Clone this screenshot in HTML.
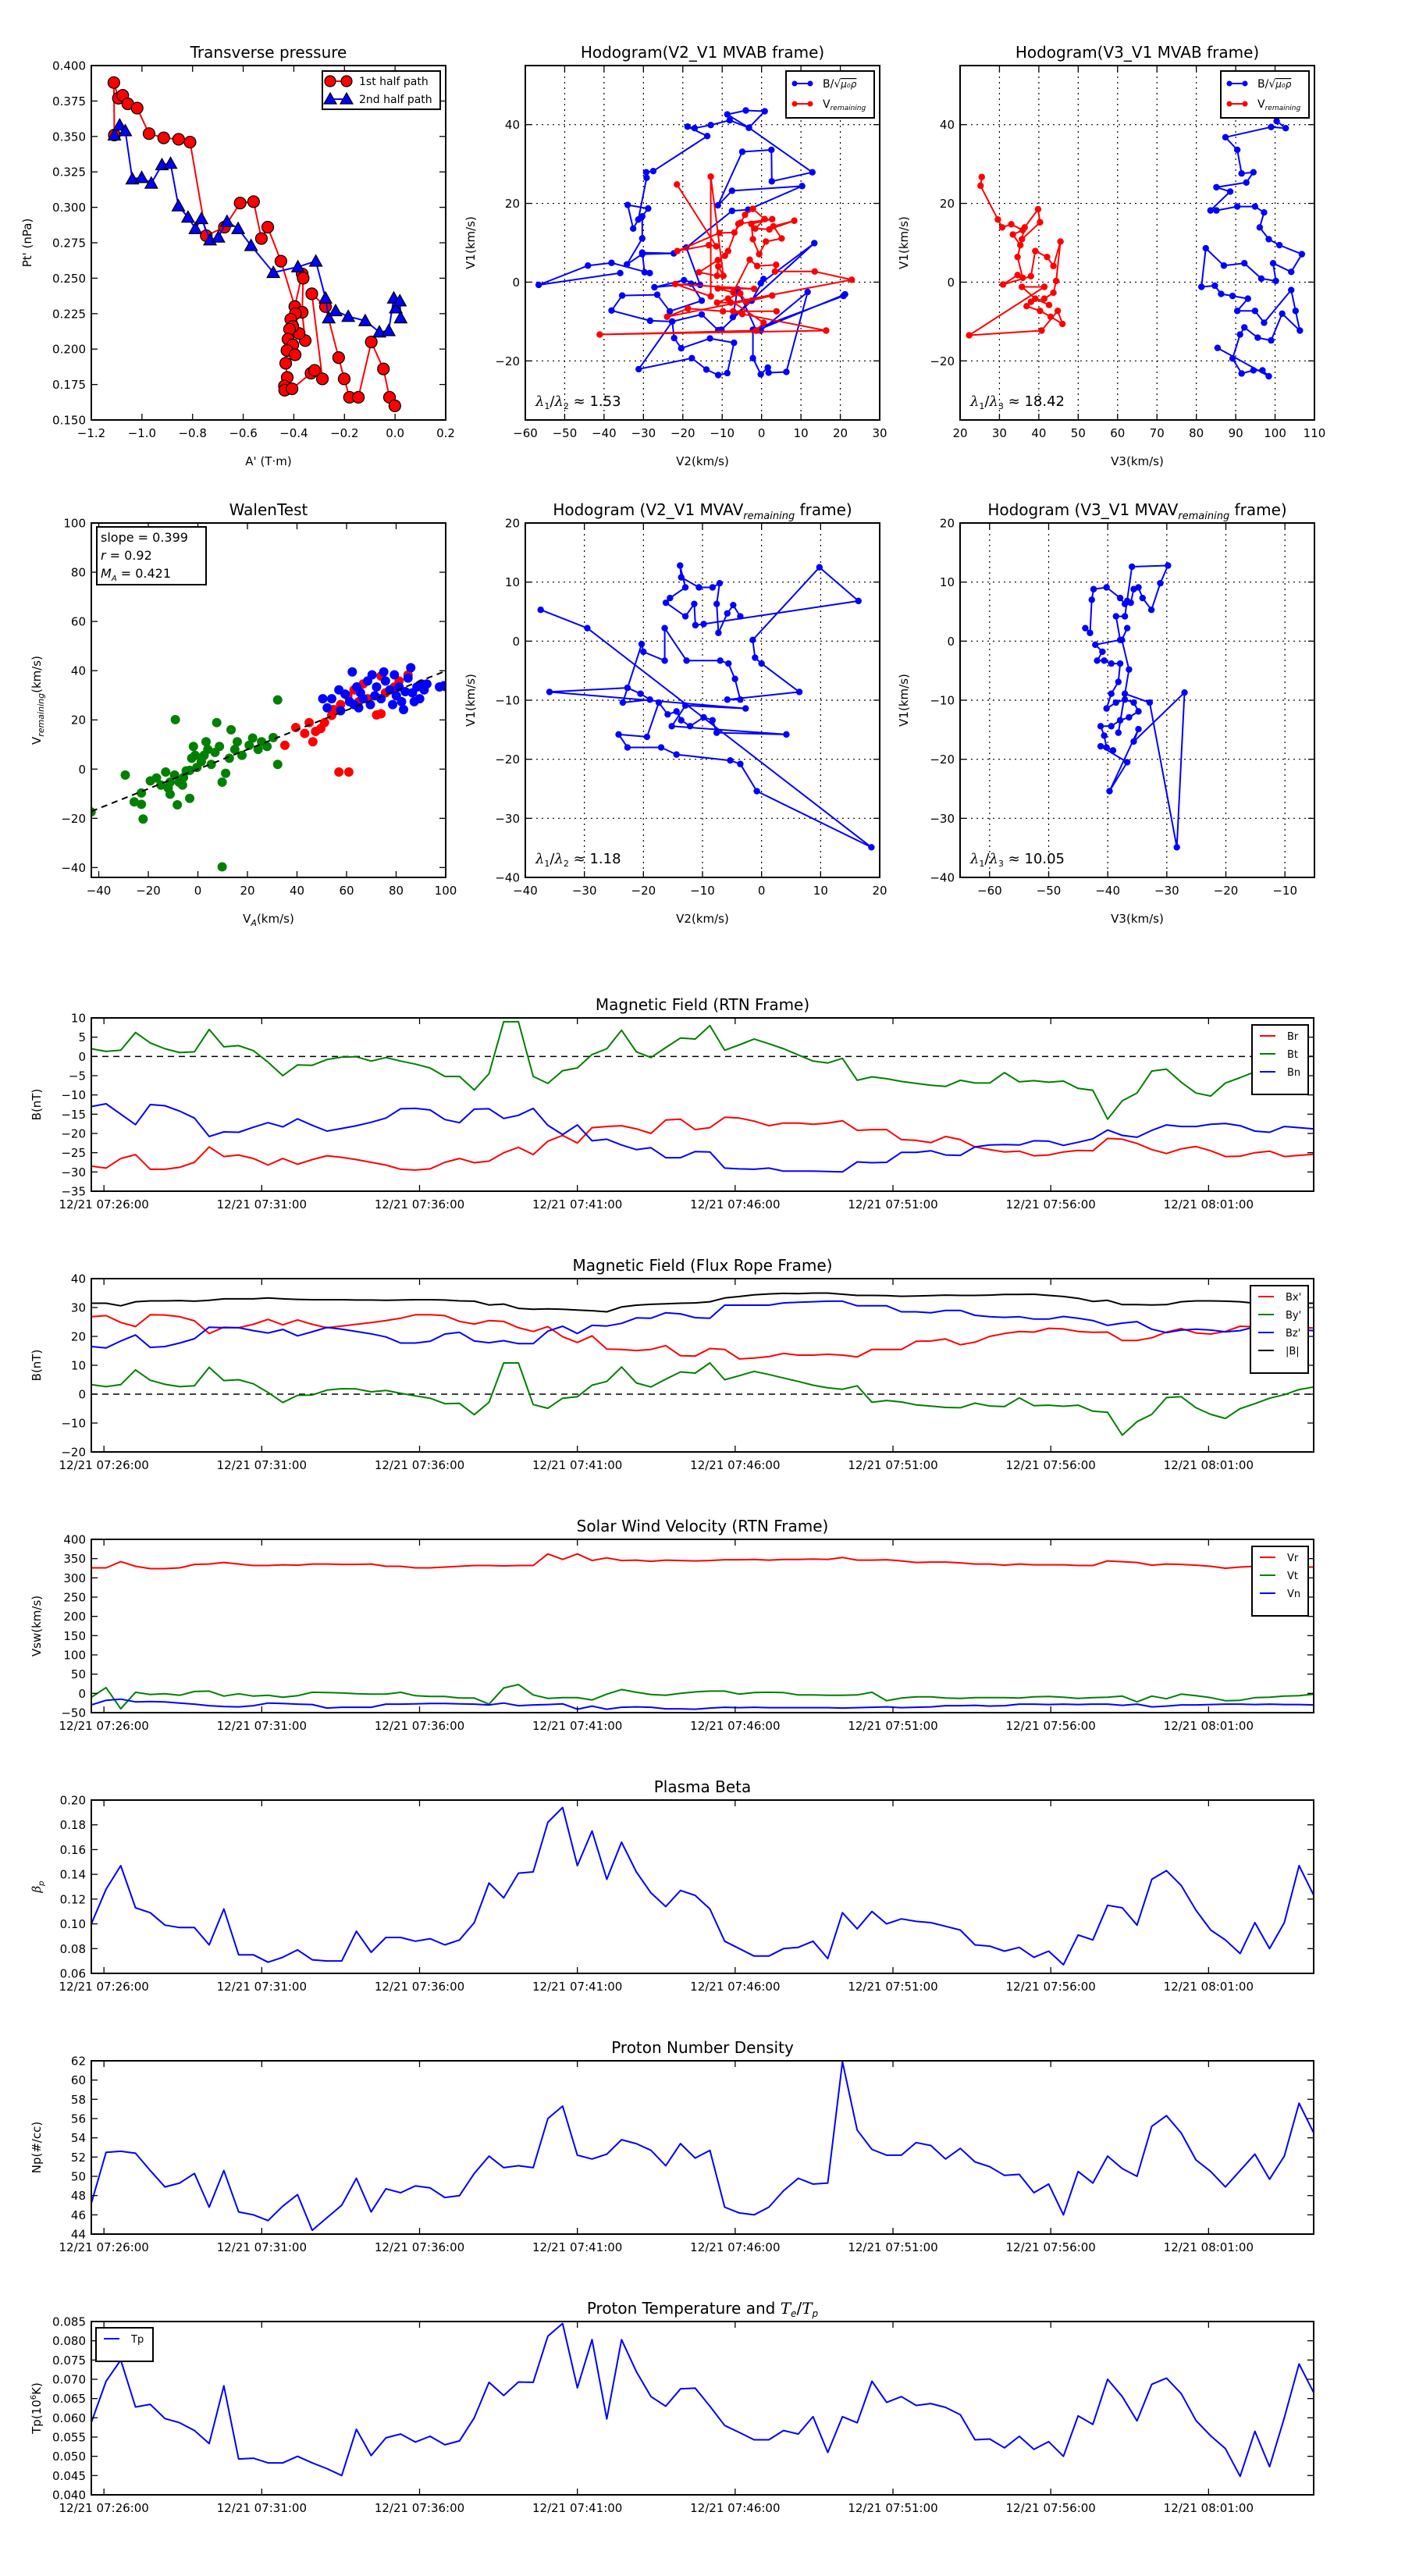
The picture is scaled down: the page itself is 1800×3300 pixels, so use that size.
<!DOCTYPE html>
<html><head><meta charset="utf-8"><title>Flux rope analysis</title>
<style>
html,body{margin:0;padding:0;background:#fff;}
svg{display:block;font-family:"DejaVu Sans","Liberation Sans",sans-serif;}
</style></head>
<body>
<svg id="fig" xmlns="http://www.w3.org/2000/svg" width="1800" height="3300" viewBox="0 0 1800 3300">
<rect x="0" y="0" width="1800" height="3300" fill="#fff"/>
</svg>
<script>
// ---------- Time series data (28 s cadence, minutes relative to 07:26:00) ----------
const timeStartMin = -0.40;
const cadenceMin = 28/60;
const timeTickLabels = ["12/21 07:26:00","12/21 07:31:00","12/21 07:36:00","12/21 07:41:00","12/21 07:46:00","12/21 07:51:00","12/21 07:56:00","12/21 08:01:00"];
const timeTickMin = [0,5,10,15,20,25,30,35];

const Br = [-28.5,-29,-26.5,-25.5,-29.3,-29.3,-28.8,-27.5,-23.5,-26,-25.6,-26.5,-28.2,-26.5,-28,-26.8,-25.8,-26.2,-26.8,-27.5,-28.2,-29.3,-29.5,-29.2,-27.5,-26.5,-27.6,-27.2,-25,-23.6,-25.5,-22,-20.5,-22.5,-18.5,-18.2,-18,-18.8,-20,-16.5,-16.3,-19,-18.5,-15.8,-16,-16.8,-18,-17.3,-17.3,-17.6,-17.3,-16.7,-19.2,-19,-19,-21.6,-21.8,-22.4,-20.8,-21.6,-23.5,-24.2,-24.8,-24.6,-25.8,-25.6,-24.8,-24.4,-24.5,-21.3,-21.5,-22.6,-24.2,-25.2,-24,-23.4,-24.5,-26,-25.9,-25,-24.6,-26,-25.7,-25.4];
const Bt = [2,1.3,1.6,6.2,3.5,2,1,1.2,7,2.5,2.8,1.5,-1.5,-5,-2.2,-2.3,-0.8,-0.2,-0.1,-1.2,-0.3,-1.2,-2,-3,-5.2,-5.2,-8.7,-4.5,9,9,-5.2,-7,-3.7,-3,0.5,2,6.8,1.2,-0.3,2.3,4.8,4.5,8,1.6,3,4.5,3.3,2,0.4,-1.2,-1.7,-0.5,-6.2,-5.3,-5.8,-6.5,-7,-7.5,-7.8,-6.2,-6.9,-6.9,-4.2,-6.6,-6.3,-6.7,-6.4,-8.3,-8.8,-16.3,-11.5,-9.5,-3.8,-3.3,-6.7,-9.5,-10.3,-6.9,-5.5,-4,-2,-1,0,0];
const Bn = [-13,-12.3,-15,-17.7,-12.5,-12.8,-14.2,-16,-20.8,-19.6,-19.7,-18.4,-17.2,-18.3,-16.2,-17.9,-19.4,-18.7,-18,-17.1,-16,-13.6,-13.5,-13.9,-16.4,-17.2,-13.7,-13.6,-16.1,-15.3,-13.5,-17.9,-20.3,-17.8,-21.9,-21.5,-23,-24.2,-23.7,-26.3,-26.3,-24.7,-24.8,-29,-29.2,-29.3,-29,-29.8,-29.8,-29.8,-29.9,-30,-27.4,-27.6,-27.5,-24.9,-24.9,-24.5,-25.6,-25.7,-23.5,-23,-22.9,-23,-21.9,-22,-23.1,-22.3,-21.4,-19.1,-20.5,-21,-19.2,-17.8,-18.2,-18.2,-17.6,-17.4,-18,-19.4,-19.7,-18.2,-18.5,-18.8];

const BxP = [26.8,27.2,24.8,23.4,27.5,27.4,26.8,25.4,21,23.2,23,24.2,25.9,24,25.7,24.2,23,23.6,24.2,24.8,25.5,26.3,27.5,27.5,27.2,25.2,24.3,25.5,25.2,23,21.7,23.4,19.9,17.9,20.2,15.6,15.5,15.1,15.5,16.8,13.3,13.2,15.8,15.5,12.2,12.5,13,14.1,13.5,13.5,13.8,13.5,12.9,15.5,15.5,15.5,18.3,18.4,19.1,17.1,18,20,21,21.7,21.5,22.8,22.6,21.7,21.4,21.5,18.6,18.6,19.5,21.5,22.7,21.2,20.8,21.7,23.5,23.3,22.4,22.6,23.1,22.9];
const ByP = [3.3,2.6,3.3,8.4,4.8,3.4,2.6,2.9,9.3,4.7,5,3.6,0.6,-2.9,-0.4,-0.3,1.4,1.9,1.8,0.8,1.3,0.3,-0.6,-1.4,-3.3,-3.2,-7.1,-2.8,10.8,10.8,-3.6,-4.9,-1.4,-0.9,3.1,4.4,9.4,3.9,2.5,5.2,7.7,7.3,10.8,5,6.4,7.9,6.8,5.6,4.4,3.1,2.2,1.7,2.9,-2.8,-2.2,-2.7,-3.7,-4.1,-4.6,-4.7,-3.1,-4.1,-4.3,-1.3,-4,-3.8,-4.2,-3.8,-5.9,-6.3,-14.2,-9.5,-7,-1.2,-0.9,-4.7,-7,-8.4,-5,-3.3,-1.4,-0.2,1.6,2.5];
const BzP = [16.5,16,18.4,20.5,16.2,16.5,17.7,19.2,23.2,23,23,22,21.2,22.4,20.2,21.6,23.1,22.5,21.7,20.9,19.8,17.7,17.7,18.3,20.8,21.4,18.4,17.8,18.5,17.5,17.5,21.8,23.5,21,23.8,23.6,24.5,26.4,26.3,28.2,27.8,26.5,26.3,30.8,30.8,30.8,30.8,31.6,31.8,32,32.2,32.2,30.6,30.6,30.6,28.5,28.5,28.2,29,29,27.3,26.8,26.6,26.8,26,26,26.9,26.3,25.5,23.8,24.6,25.1,22.5,21.3,22.2,22.5,22.2,21.6,22,23.3,22.5,22.8,22.3,22];
const Bmag = [31.5,31.5,30.6,32,32.3,32.3,32.4,32.2,32.5,33,33,33,33.3,33,32.8,32.7,32.7,32.7,32.6,32.6,32.5,32.6,32.7,32.7,32.6,32.3,32.2,30.9,31.2,29.7,29.4,29.5,29.4,29.1,28.9,28.5,30.2,30.8,31.1,31.3,31.5,31.6,32,33.3,33.8,34.4,34.7,34.9,34.8,35,35,34.6,34.2,34.2,34.1,33.9,34,34.1,34.3,34.2,34.2,34.3,34.5,34.5,34.6,34.2,33.8,33.2,32.1,32.5,31,31,30.9,31,32,32.3,32.3,32.2,32,31.5,31.3,31.5,31.5,31.5];

const Vr = [326,326,342,330,324,324,326,335,336,340,336,332,332,334,333,336,336,335,335,336,330,330,326,326,328,330,332,332,331,332,332,362,348,362,345,352,345,346,343,346,345,344,345,347,347,348,346,348,348,349,348,353,346,346,347,344,340,341,341,339,336,336,333,336,334,334,334,332,332,344,342,340,333,336,335,333,330,325,328,330,331,330,328,328];
const Vt = [-10,15,-40,3,-3,-1,-5,5,6,-7,-1,-7,-5,-10,-6,3,2,1,-1,-2,-2,3,-6,-8,-8,-12,-12,-28,14,23,-4,-13,-11,-11,-17,-2,10,3,-3,-5,0,4,6,6,-2,2,3,2,-4,-4,-5,-5,-4,3,-19,-12,-9,-9,-12,-13,-11,-11,-11,-12,-9,-8,-10,-13,-11,-10,-7,-22,-7,-14,-2,-6,-11,-19,-18,-11,-10,-7,-6,-2];
const Vn = [-30,-18,-15,-22,-21,-22,-25,-28,-32,-34,-35,-32,-25,-26,-28,-29,-38,-36,-36,-36,-28,-28,-27,-26,-26,-27,-28,-30,-25,-32,-30,-29,-27,-41,-33,-41,-36,-35,-36,-40,-40,-41,-38,-36,-37,-36,-37,-37,-37,-37,-37,-38,-37,-36,-35,-37,-36,-35,-32,-32,-31,-33,-32,-28,-28,-29,-28,-29,-28,-28,-31,-28,-35,-33,-30,-30,-29,-28,-28,-29,-28,-29,-29,-30];

const betaP = [0.100,0.128,0.147,0.113,0.109,0.099,0.097,0.097,0.083,0.112,0.075,0.075,0.069,0.073,0.079,0.071,0.070,0.070,0.094,0.077,0.089,0.089,0.086,0.088,0.083,0.087,0.101,0.133,0.121,0.141,0.142,0.182,0.194,0.147,0.175,0.136,0.166,0.142,0.125,0.114,0.127,0.123,0.112,0.086,0.080,0.074,0.074,0.080,0.081,0.086,0.072,0.109,0.096,0.110,0.100,0.104,0.102,0.101,0.098,0.095,0.083,0.082,0.078,0.081,0.073,0.078,0.067,0.091,0.087,0.115,0.113,0.099,0.136,0.143,0.131,0.111,0.095,0.087,0.076,0.101,0.080,0.101,0.147,0.123];
const Np = [47.2,52.5,52.6,52.4,50.6,48.9,49.3,50.3,46.8,50.6,46.3,46,45.4,46.9,48.1,44.4,45.7,47,49.8,46.3,48.7,48.3,49,48.8,47.8,48,50.3,52.1,50.9,51.1,50.9,56,57.3,52.2,51.8,52.3,53.8,53.4,52.7,51.1,53.4,51.9,52.7,46.8,46.2,46,46.8,48.5,49.8,49.2,49.3,61.9,54.8,52.8,52.2,52.2,53.5,53.2,51.8,52.9,51.5,51,50.1,50.2,48.3,49.2,46,50.5,49.3,52.1,50.8,50,55.2,56.3,54.5,51.7,50.5,48.9,50.6,52.3,49.7,52.1,57.6,54.5];
const Tp = [0.0588,0.0695,0.0750,0.0628,0.0635,0.0598,0.0587,0.0567,0.0533,0.0683,0.0493,0.0495,0.0483,0.0483,0.0500,0.0483,0.0468,0.0450,0.0570,0.0502,0.0548,0.0558,0.0537,0.0552,0.0530,0.0540,0.0600,0.0692,0.0658,0.0693,0.0692,0.0812,0.0845,0.0678,0.0803,0.0597,0.0803,0.0720,0.0655,0.0630,0.0675,0.0677,0.0630,0.0580,0.0562,0.0543,0.0543,0.0567,0.0558,0.0603,0.0510,0.0603,0.0587,0.0695,0.0640,0.0655,0.0632,0.0637,0.0627,0.0608,0.0543,0.0545,0.0522,0.0552,0.0518,0.0538,0.0500,0.0605,0.0583,0.0700,0.0655,0.0592,0.0687,0.0703,0.0663,0.0593,0.0553,0.0520,0.0448,0.0565,0.0473,0.0600,0.0740,0.0665];

// ---------- Transverse pressure ----------
const pt1A = [-1.109,-1.111,-1.093,-1.076,-1.056,-1.019,-0.972,-0.914,-0.855,-0.810,-0.746,-0.674,-0.612,-0.559,-0.528,-0.503,-0.451,-0.396,-0.367,-0.363,-0.367,-0.355,-0.379,-0.394,-0.412,-0.404,-0.417,-0.423,-0.404,-0.427,-0.395,-0.432,-0.426,-0.437,-0.436,-0.407,-0.332,-0.318,-0.287,-0.329,-0.275,-0.223,-0.201,-0.180,-0.145,-0.094,-0.046,-0.022,-0.001];
const pt1P = [.351,.388,.377,.379,.373,.370,.352,.349,.348,.346,.280,.286,.303,.304,.278,.286,.262,.230,.253,.250,.226,.206,.211,.225,.221,.216,.214,.207,.203,.199,.196,.190,.180,.174,.171,.172,.183,.185,.179,.239,.230,.194,.179,.166,.166,.205,.186,.166,.160];
const pt2A = [-1.109,-1.088,-1.066,-1.038,-1.001,-0.963,-0.921,-0.887,-0.856,-0.818,-0.789,-0.765,-0.731,-0.698,-0.664,-0.620,-0.569,-0.481,-0.384,-0.313,-0.275,-0.262,-0.235,-0.185,-0.118,-0.062,-0.025,-0.005,0.003,0.019,0.022];
const pt2P = [.351,.358,.354,.320,.321,.317,.330,.331,.301,.293,.285,.292,.277,.279,.290,.285,.273,.254,.258,.262,.236,.222,.227,.223,.220,.212,.213,.236,.229,.234,.222];

// ---------- Hodogram V2-V1 MVAB ----------
const hB2 = [-35.9,-56.6,-44.1,-38.1,-28.4,-29.7,-30.3,-22.3,-30.3,-34.2,-30.3,-30.3,-28.8,-34.0,-32.6,-31.3,-29.2,-29.3,-27.5,-13.8,-18.8,-17.0,-12.9,-8.1,-3.2,-8.7,-4.0,0.8,-3.2,12.9,2.6,2.5,-4.9,-11.1,-7.5,10.3,-3.4,-7.5,-19.1,-15.6,-19.7,-27.2,-17.9,-15.2,-23.3,-26.5,-35.4,-38.1,-28.3,-22.7,-22.2,-20.4,-13.1,-7.0,-8.7,-11.0,-14.0,-17.7,-31.2,-22.7,-15.2,-11.0,-10.2,-2.5,0.5,-0.2,13.4,-7.3,-6.1,-1.3,21.2,20.8,-2.2,-2.2,-0.2,1.6,1.8,6.3,11.7,-0.2];
const hB1 = [2.3,-0.7,4.2,4.9,2.3,2.5,7.5,7.3,7.1,4.5,11.1,16.7,18.7,19.6,13.6,15.9,26.5,27.9,28.2,37.1,39.5,39.1,39.9,41.1,39.2,42.6,43.6,43.4,39.2,27.9,25.6,33.6,33.1,19.5,23.2,24.4,18.4,18.1,8.8,-0.7,0.5,-1.3,-0.4,-4.7,-7.4,-3.2,-3.4,-7.2,-9.8,-10.0,-14.2,-16.8,-14.3,-15.4,-23.1,-23.6,-22.2,-19.3,-22.1,-10.0,-8.2,-12.2,-12.1,-4.7,0.8,-0.3,9.9,-8.9,-1.8,-12.3,-3.1,-3.5,-12.1,-19.3,-23.4,-21.7,-23.0,-22.8,-2.5,-12.3];
const hV2 = [-21.5,-11.5,-13.4,-21.4,-10.7,-6.9,-5.3,-4.2,-2.2,0.8,-1.6,2.0,8.3,3.0,5.1,1.1,-0.6,-2.2,-2.6,2.7,-5.9,-8.5,-9.3,-11.1,-15.9,-11.3,-11.0,-9.7,-12.9,-12.9,-21.9,-1.9,-11.1,-7.2,-3.0,-1.1,3.7,3.4,13.5,22.9,-7.8,-11.3,-5.4,-3.9,2.7,-24.0,-18.7,-9.8,3.8,-7.2,-4.9,16.4,-41.1,-1.4,0.5,-8.5];
const hV1 = [24.8,9.1,9.4,7.9,12.5,12.6,15.1,17.1,18.6,16.0,13.6,13.4,15.6,14.2,11.1,10.3,7.1,10.9,14.8,16.0,14.8,7.9,6.7,5.6,2.5,1.6,4.0,1.6,26.8,-3.6,-0.5,-1.7,-1.6,-2.6,5.7,4.1,4.4,2.7,2.7,0.6,-5.2,-5.2,-2.9,-5.0,-3.4,-8.8,-6.7,-7.4,-7.4,-7.4,-8.1,-12.3,-13.3,-12.3,-10.3,-4.2];

// ---------- Hodogram V3-V1 MVAB ----------
const hB3 = [100.4,102.7,99.0,87.4,90.4,91.5,94.5,92.7,85.1,88.6,83.6,85.1,90.4,94.9,97.2,96.1,98.4,101.1,106.8,104.1,99.5,100.2,96.5,92.2,87.0,82.4,81.3,84.7,86.3,89.2,93.1,90.4,94.9,97.2,104.1,105.2,106.3,101.8,99.0,95.6,92.2,91.1,89.2,91.5,94.5,96.8,98.4,85.4];
const hB1b = [40.9,39.1,39.4,36.8,33.6,27.6,27.9,25.3,24.1,23.0,18.2,18.2,19.2,19.2,17.7,13.9,10.9,9.4,7.1,2.6,4.8,0.3,0.9,4.8,4.2,8.6,-1.2,-0.9,-3.0,-3.5,-4.2,-7.3,-7.3,-10.3,-2.0,-7.3,-12.3,-8.0,-14.8,-14.1,-11.5,-13.3,-19.4,-23.2,-22.4,-22.4,-23.9,-16.7];
const hV3 = [25.5,25.2,29.6,30.7,33.0,35.9,33.4,35.3,36.4,39.8,40.3,35.7,34.6,35.9,34.6,30.9,38.0,39.1,42.1,43.7,45.5,44.4,43.7,41.4,38.0,36.9,40.3,43.0,46.0,44.8,40.7,22.3,41.4,35.7,39.1,42.6];
const hV1b = [26.7,24.5,15.9,13.9,14.7,13.2,12.1,9.4,13.9,18.5,15.2,10.9,6.4,1.1,1.8,-0.6,1.5,7.9,6.4,4.1,10.3,0.3,-2.7,-4.2,-5.0,-6.1,-7.3,-8.8,-10.6,-7.3,-12.3,-13.5,-1.2,-1.2,-4.2,-5.8];

// ---------- Walen test ----------
const walenSlope = 0.399;
const walenGreenX = [-43.1,-29.3,-25.7,-22.8,-22.1,-22.8,-19.2,-16.7,-14.9,-13.0,-12.0,-11.2,-9.4,-8.3,-7.6,-5.8,-4.7,-3.3,-2.5,-1.8,-0.4,1.4,2.5,4.0,5.4,6.9,7.6,8.7,9.8,11.2,12.7,13.4,14.9,15.9,17.8,20.7,22.1,24.3,25.7,27.9,30.4,32.2,32.2,-9.1,9.8,-1.1,3.3,-6.2,-11.2,-3.3];
const walenGreenY = [-17.4,-2.4,-13.3,-14.3,-20.3,-9.7,-4.8,-3.6,-6.5,-1.2,-7.7,-5.3,-2.4,-14.5,-5.3,-3.4,-0.7,-11.9,4.4,9.2,0.7,3.1,5.6,8.0,1.9,6.8,18.9,9.2,-5.3,-1.7,4.4,16.0,8.0,11.1,5.6,9.7,12.6,8.0,11.1,9.2,12.8,1.9,28.1,20.1,-39.7,5.6,11.1,-6.5,-10.2,-0.5];
const walenRedX = [35.1,39.5,43.1,44.9,46.4,49.6,51.1,54.0,56.9,60.9,57.6,63.0,64.9,68.5,72.1,73.9,75.7,79.3,81.2,84.8,73.9,66.7,60.5,54.7,47.5];
const walenRedY = [9.7,16.9,14.5,18.9,11.1,16.5,18.9,21.8,-1.2,-1.2,26.2,32.2,27.4,28.6,22.0,37.8,31.0,33.4,35.8,38.3,22.5,34.6,29.8,24.2,15.3];
const walenBlueX = [50.4,52.2,54.0,56.9,59.4,61.2,62.3,64.1,65.6,66.7,68.5,69.6,71.4,72.1,73.9,75.7,77.5,78.6,80.1,81.2,82.2,83.0,84.8,85.9,86.6,87.3,88.4,90.2,91.3,92.4,97.5,99.3,64.9,70.3,75.0,57.6,63.0,79.3,83.7,89.5,100];
const walenBlueY = [28.6,24.9,28.6,32.2,30.5,27.4,39.5,33.4,31.0,28.6,35.8,26.2,29.8,33.4,28.6,35.8,32.2,26.2,29.8,33.4,27.4,24.2,37.0,41.2,31.0,27.4,33.4,34.6,32.2,34.6,33.4,33.9,24.9,38.3,39.5,23.7,26.2,38.3,31.5,28.6,33.5];

// ---------- Hodogram V2-V1 MVAV ----------
const hM2 = [-37.4,-29.5,18.6,-0.8,-3.6,-5.3,-14.4,-17.0,-22.7,-24.2,-19.4,-17.4,-15.9,-14.4,-13.6,-12.1,-9.8,-8.3,-7.6,4.2,-15.2,-12.9,-2.7,-35.9,-22.7,-20.5,-18.9,-23.5,-20.3,-20.0,-16.4,-16.4,-12.7,-7.0,-5.6,-4.5,-3.6,-5.8,6.4,0,-1.1,-1.5,9.8,16.4,-9.8,-11.2,-11.4,-12.9,-16.2,-15.5,-12.9,-13.8,-13.6,-10.6,-8.3,-7.1,-7.6,-7.3,-5.8,-4.8,-3.6];
const hM1 = [5.3,2.2,-34.9,-25.4,-20.8,-20.2,-19.2,-18.0,-18.0,-15.8,-16.2,-10.4,-12.4,-11.9,-13.4,-14.4,-12.9,-13.4,-15.5,-15.8,-14.4,-10.9,-11.4,-8.6,-7.9,-8.9,-9.9,-10.4,-0.5,-1.8,-3.3,2.2,-3.3,-3.3,-3.8,-6.4,-9.9,-9.9,-8.6,-3.8,-2.8,0.2,12.5,6.8,2.9,2.7,6.3,4.2,6.5,7.3,9.1,12.8,10.8,9.1,9.1,9.8,6.3,1.4,4.7,6.1,4.2];

// ---------- Hodogram V3-V1 MVAV ----------
const hM3 = [-43.8,-43.0,-42.7,-42.4,-40.2,-37.9,-37.1,-36.7,-36.1,-35.6,-34.8,-34.1,-32.6,-31.1,-29.8,-35.9,-37.1,-38.6,-37.9,-42.1,-40.9,-41.8,-40.6,-39.4,-37.9,-38.2,-39.4,-40.2,-38.6,-37.1,-35.6,-34.8,-36.4,-37.9,-39.4,-41.2,-40.6,-40.2,-39.1,-41.2,-36.7,-39.7,-34.8,-35.6,-27.0,-28.3,-32.9,-37.1,-38.2,-36.4,-37.6,-36.7];
const hM1b = [2.2,1.4,7.0,8.8,9.1,7.3,6.3,6.8,6.5,8.8,9.1,7.3,5.3,9.8,12.8,12.6,4.2,4.2,0.2,-0.6,-1.8,-3.3,-3.3,-3.8,-3.8,-6.9,-8.9,-11.4,-10.4,-9.9,-10.4,-11.9,-12.9,-13.4,-14.4,-14.4,-16.0,-18.0,-18.5,-17.8,-20.5,-25.4,-14.9,-17.0,-8.7,-34.9,-10.4,-8.9,-15.5,-4.8,0.2,2.2];

// ======================= drawing =======================
const NS = 'http://www.w3.org/2000/svg';
const svg = document.getElementById('fig');
function mk(tag, attrs, parent){
  const e = document.createElementNS(NS, tag);
  for (const k in attrs) e.setAttribute(k, attrs[k]);
  (parent || svg).appendChild(e);
  return e;
}
function nm(e, n){
  
  
  return e;
}
let clipCount = 0;
function fmt(v){ return (v < 0 ? '\u2212' : '') + Math.abs(v); }

function axes(o){
  const g = mk('g', {});
  nm(g, o.name);
  const sx = v => o.x + (v - o.xmin) / (o.xmax - o.xmin) * o.w;
  const sy = v => o.y + o.h - (v - o.ymin) / (o.ymax - o.ymin) * o.h;
  const cid = 'clip' + (clipCount++);
  const cp = mk('clipPath', {id: cid}, g);
  mk('rect', {x: o.x, y: o.y, width: o.w, height: o.h}, cp);
  const plot = mk('g', {'clip-path': 'url(#' + cid + ')'}, g);
  nm(plot, o.name + '-plot-area');
  // grid
  if (o.grid){
    o.xticks.forEach(v => { const l = mk('line', {x1: sx(v), x2: sx(v), y1: o.y, y2: o.y + o.h, stroke: '#000', 'stroke-width': 1.2, 'stroke-dasharray': '2,5'}, plot); nm(l, 'x-gridline'); });
    o.yticks.forEach(v => { const l = mk('line', {y1: sy(v), y2: sy(v), x1: o.x, x2: o.x + o.w, stroke: '#000', 'stroke-width': 1.2, 'stroke-dasharray': '2,5'}, plot); nm(l, 'y-gridline'); });
  }
  // ticks
  o.xticks.forEach((v, i) => {
    const X = sx(v);
    const t1 = mk('line', {x1: X, x2: X, y1: o.y + o.h, y2: o.y + o.h - 8, stroke: '#000', 'stroke-width': 1.3}, g); nm(t1, 'x-tick');
    const t2 = mk('line', {x1: X, x2: X, y1: o.y, y2: o.y + 8, stroke: '#000', 'stroke-width': 1.3}, g); nm(t2, 'x-tick-top');
    const lab = mk('text', {x: X, y: o.y + o.h + 22, 'text-anchor': 'middle', 'font-size': 15, fill: '#000'}, g);
    lab.textContent = o.xlabels ? o.xlabels[i] : fmt(v);
    nm(lab, 'x-tick-label');
  });
  o.yticks.forEach((v, i) => {
    const Y = sy(v);
    const t1 = mk('line', {x1: o.x, x2: o.x + 8, y1: Y, y2: Y, stroke: '#000', 'stroke-width': 1.3}, g); nm(t1, 'y-tick');
    const t2 = mk('line', {x1: o.x + o.w, x2: o.x + o.w - 8, y1: Y, y2: Y, stroke: '#000', 'stroke-width': 1.3}, g); nm(t2, 'y-tick-right');
    const lab = mk('text', {x: o.x - 7, y: Y + 5.5, 'text-anchor': 'end', 'font-size': 15, fill: '#000'}, g);
    lab.textContent = o.ylabels ? o.ylabels[i] : fmt(v);
    nm(lab, 'y-tick-label');
  });
  const fr = mk('rect', {x: o.x, y: o.y, width: o.w, height: o.h, fill: 'none', stroke: '#000', 'stroke-width': 2}, g);
  nm(fr, o.name + '-frame');
  const t = mk('text', {x: o.x + o.w / 2, y: o.y - 10, 'text-anchor': 'middle', 'font-size': 20, fill: '#000'}, g);
  t.innerHTML = o.title;
  nm(t, o.name + '-title');
  if (o.xtitle){
    const xt = mk('text', {x: o.x + o.w / 2, y: o.y + o.h + 58, 'text-anchor': 'middle', 'font-size': 15, fill: '#000'}, g);
    xt.innerHTML = o.xtitle;
    nm(xt, 'x-axis-title');
  }
  if (o.ytitle){
    const yx = o.ytx, yy = o.y + o.h / 2;
    const yt = mk('text', {x: yx, y: yy, 'text-anchor': 'middle', 'font-size': 15, fill: '#000', transform: 'rotate(-90 ' + yx + ' ' + yy + ')'}, g);
    yt.innerHTML = o.ytitle;
    nm(yt, 'y-axis-title');
  }
  return {g, plot, sx, sy};
}
function polyline(ax, xs, ys, color, width, name){
  const pts = xs.map((v, i) => ax.sx(v).toFixed(1) + ',' + ax.sy(ys[i]).toFixed(1)).join(' ');
  const p = mk('polyline', {points: pts, fill: 'none', stroke: color, 'stroke-width': width, 'stroke-linejoin': 'round'}, ax.plot);
  nm(p, name);
  return p;
}
function dots(ax, xs, ys, color, r, stroke, name){
  xs.forEach((v, i) => {
    const c = mk('circle', {cx: ax.sx(v), cy: ax.sy(ys[i]), r: r, fill: color, stroke: stroke, 'stroke-width': stroke === 'none' ? 0 : 1.2}, ax.plot);
    nm(c, name);
  });
}
function tris(ax, xs, ys, color, s, name){
  xs.forEach((v, i) => {
    const X = ax.sx(v), Y = ax.sy(ys[i]);
    const p = mk('polygon', {points: X + ',' + (Y - s) + ' ' + (X - s) + ',' + (Y + s * 0.8) + ' ' + (X + s) + ',' + (Y + s * 0.8), fill: color, stroke: '#000', 'stroke-width': 1.2}, ax.plot);
    nm(p, name);
  });
}
function hline(ax, v, xmin, xmax, name){
  const l = mk('line', {x1: ax.sx(xmin), x2: ax.sx(xmax), y1: ax.sy(v), y2: ax.sy(v), stroke: '#000', 'stroke-width': 1.5, 'stroke-dasharray': '8,6'}, ax.plot);
  nm(l, name);
}
function range(a, b, s){ const r = []; for (let v = a; v <= b + 1e-9; v += s) r.push(+v.toFixed(4)); return r; }

// ---------- Row 1 ----------
const R1 = 84, R2 = 670, SZ = 454;
const C1 = 117, C2 = 673, C3 = 1230;

const axP = axes({name: 'transverse-pressure-chart', x: C1, y: R1, w: SZ, h: SZ, xmin: -1.2, xmax: 0.2, ymin: 0.15, ymax: 0.40,
  xticks: range(-1.2, 0.2, 0.2), xlabels: ['\u22121.2','\u22121.0','\u22120.8','\u22120.6','\u22120.4','\u22120.2','0.0','0.2'],
  yticks: range(0.15, 0.40, 0.025), ylabels: ['0.150','0.175','0.200','0.225','0.250','0.275','0.300','0.325','0.350','0.375','0.400'],
  title: 'Transverse pressure', xtitle: "A' (T\u00b7m)", ytitle: "Pt' (nPa)", ytx: 40});
polyline(axP, pt1A, pt1P, '#f00', 2, 'first-half-path-line');
dots(axP, pt1A, pt1P, '#f00', 7.5, '#000', 'first-half-path-marker');
polyline(axP, pt2A, pt2P, '#00f', 2, 'second-half-path-line');
tris(axP, pt2A, pt2P, '#00f', 8, 'second-half-path-marker');

const axH1 = axes({name: 'hodogram-v2-v1-mvab', x: C2, y: R1, w: SZ, h: SZ, xmin: -60, xmax: 30, ymin: -35, ymax: 55,
  xticks: range(-60, 30, 10), yticks: [-20, 0, 20, 40], grid: true,
  title: 'Hodogram(V2_V1 MVAB frame)', xtitle: 'V2(km/s)', ytitle: 'V1(km/s)', ytx: 608});
polyline(axH1, hB2, hB1, '#00f', 2, 'b-alfven-line');
dots(axH1, hB2, hB1, '#00f', 4.2, 'none', 'b-alfven-point');
polyline(axH1, hV2, hV1, '#f00', 2, 'v-remaining-line');
dots(axH1, hV2, hV1, '#f00', 4.2, 'none', 'v-remaining-point');

const axH2 = axes({name: 'hodogram-v3-v1-mvab', x: C3, y: R1, w: SZ, h: SZ, xmin: 20, xmax: 110, ymin: -35, ymax: 55,
  xticks: range(20, 110, 10), yticks: [-20, 0, 20, 40], grid: true,
  title: 'Hodogram(V3_V1 MVAB frame)', xtitle: 'V3(km/s)', ytitle: 'V1(km/s)', ytx: 1163});
polyline(axH2, hB3, hB1b, '#00f', 2, 'b-alfven-line');
dots(axH2, hB3, hB1b, '#00f', 4.2, 'none', 'b-alfven-point');
polyline(axH2, hV3, hV1b, '#f00', 2, 'v-remaining-line');
dots(axH2, hV3, hV1b, '#f00', 4.2, 'none', 'v-remaining-point');

// ---------- Row 2 ----------
const axW = axes({name: 'walen-test-chart', x: C1, y: R2, w: SZ, h: SZ, xmin: -43, xmax: 100, ymin: -44, ymax: 100,
  xticks: range(-40, 100, 20), yticks: range(-40, 100, 20),
  title: 'WalenTest', xtitle: 'V<tspan font-style="italic" font-size="11" dy="4">A</tspan><tspan dy="-4">(km/s)</tspan>',
  ytitle: 'V<tspan font-style="italic" font-size="11" dy="4">remaining</tspan><tspan dy="-4">(km/s)</tspan>', ytx: 52});
dots(axW, walenGreenX, walenGreenY, '#008000', 6, 'none', 'walen-green-point');
dots(axW, walenRedX, walenRedY, '#f00', 6, 'none', 'walen-red-point');
dots(axW, walenBlueX, walenBlueY, '#00f', 6, 'none', 'walen-blue-point');
(function(){
  const l = mk('line', {x1: axW.sx(-43), y1: axW.sy(-43 * walenSlope), x2: axW.sx(100), y2: axW.sy(100 * walenSlope), stroke: '#000', 'stroke-width': 2, 'stroke-dasharray': '8,6'}, axW.plot);
  nm(l, 'walen-fit-line');
})();

const axM1 = axes({name: 'hodogram-v2-v1-mvav', x: C2, y: R2, w: SZ, h: SZ, xmin: -40, xmax: 20, ymin: -40, ymax: 20,
  xticks: range(-40, 20, 10), yticks: range(-40, 20, 10), grid: true,
  title: 'Hodogram (V2_V1 MVAV<tspan font-style="italic" font-size="13" dy="5">remaining</tspan><tspan dy="-5"> frame)</tspan>', xtitle: 'V2(km/s)', ytitle: 'V1(km/s)', ytx: 608});
polyline(axM1, hM2, hM1, '#00f', 2, 'mvav-line');
dots(axM1, hM2, hM1, '#00f', 4.2, 'none', 'mvav-point');

const axM2 = axes({name: 'hodogram-v3-v1-mvav', x: C3, y: R2, w: SZ, h: SZ, xmin: -65, xmax: -5, ymin: -40, ymax: 20,
  xticks: range(-60, -10, 10), yticks: range(-40, 20, 10), grid: true,
  title: 'Hodogram (V3_V1 MVAV<tspan font-style="italic" font-size="13" dy="5">remaining</tspan><tspan dy="-5"> frame)</tspan>', xtitle: 'V3(km/s)', ytitle: 'V1(km/s)', ytx: 1163});
polyline(axM2, hM3, hM1b, '#00f', 2, 'mvav-line');
dots(axM2, hM3, hM1b, '#00f', 4.2, 'none', 'mvav-point');

// ---------- annotations ----------
function txt(x, y, html, size, name, anchor){
  const t = mk('text', {x: x, y: y, 'font-size': size, fill: '#000', 'text-anchor': anchor || 'start'});
  t.innerHTML = html;
  nm(t, name);
  return t;
}
txt(686, 520, '<tspan font-style="italic" font-family="DejaVu Serif">\u03bb</tspan><tspan font-size="11" dy="4">1</tspan><tspan dy="-4">/</tspan><tspan font-style="italic" font-family="DejaVu Serif">\u03bb</tspan><tspan font-size="11" dy="4">2</tspan><tspan dy="-4"> \u2248 1.53</tspan>', 18, 'eigenvalue-ratio-label');
txt(1243, 520, '<tspan font-style="italic" font-family="DejaVu Serif">\u03bb</tspan><tspan font-size="11" dy="4">1</tspan><tspan dy="-4">/</tspan><tspan font-style="italic" font-family="DejaVu Serif">\u03bb</tspan><tspan font-size="11" dy="4">3</tspan><tspan dy="-4"> \u2248 18.42</tspan>', 18, 'eigenvalue-ratio-label');
txt(686, 1106, '<tspan font-style="italic" font-family="DejaVu Serif">\u03bb</tspan><tspan font-size="11" dy="4">1</tspan><tspan dy="-4">/</tspan><tspan font-style="italic" font-family="DejaVu Serif">\u03bb</tspan><tspan font-size="11" dy="4">2</tspan><tspan dy="-4"> \u2248 1.18</tspan>', 18, 'eigenvalue-ratio-label');
txt(1243, 1106, '<tspan font-style="italic" font-family="DejaVu Serif">\u03bb</tspan><tspan font-size="11" dy="4">1</tspan><tspan dy="-4">/</tspan><tspan font-style="italic" font-family="DejaVu Serif">\u03bb</tspan><tspan font-size="11" dy="4">3</tspan><tspan dy="-4"> \u2248 10.05</tspan>', 18, 'eigenvalue-ratio-label');

(function(){
  const b = mk('rect', {x: 124, y: 675, width: 140, height: 74, fill: '#fff', stroke: '#000', 'stroke-width': 2});
  nm(b, 'walen-stats-box');
  txt(129, 694, 'slope = 0.399', 16, 'walen-slope-text');
  txt(129, 717, '<tspan font-style="italic">r</tspan> = 0.92', 16, 'walen-r-text');
  txt(129, 740, '<tspan font-style="italic">M</tspan><tspan font-style="italic" font-size="10" dy="4">A</tspan><tspan dy="-4"> = 0.421</tspan>', 16, 'walen-ma-text');
})();

// legends
function legendBox(x, y, w, h, name){
  const r = mk('rect', {x: x, y: y, width: w, height: h, fill: '#fff', stroke: '#000', 'stroke-width': 2});
  nm(r, name);
}
function legendEntry(x1, x2, y, color, marker, html, tx, size, name){
  const l = mk('line', {x1: x1, x2: x2, y1: y, y2: y, stroke: color, 'stroke-width': 2});
  nm(l, name + '-swatch');
  if (marker === 'circle'){
    [x1, x2].forEach(X => { const c = mk('circle', {cx: X, cy: y, r: 7, fill: color, stroke: '#000', 'stroke-width': 1.2}); nm(c, name + '-marker'); });
  } else if (marker === 'tri'){
    [x1, x2].forEach(X => { const p = mk('polygon', {points: X + ',' + (y - 8) + ' ' + (X - 8) + ',' + (y + 6) + ' ' + (X + 8) + ',' + (y + 6), fill: color, stroke: '#000', 'stroke-width': 1.2}); nm(p, name + '-marker'); });
  } else if (marker === 'dot'){
    [x1, x2].forEach(X => { const c = mk('circle', {cx: X, cy: y, r: 3.5, fill: color}); nm(c, name + '-marker'); });
  }
  const t = txt(tx, y + 5, html, size, name + '-label');
  return t;
}
legendBox(413, 91, 151, 49, 'pressure-legend');
legendEntry(423, 444, 104, '#f00', 'circle', '1st half path', 460, 14, 'legend-first-half');
legendEntry(423, 444, 127, '#00f', 'tri', '2nd half path', 460, 14, 'legend-second-half');

[0, 557].forEach(off => {
  legendBox(1007 + off, 91, 113, 60, 'hodogram-legend');
  legendEntry(1018 + off, 1038 + off, 107, '#00f', 'dot', 'B/\u221a<tspan text-decoration="overline" font-style="italic" font-size="12">\u03bc\u2080\u03c1</tspan>', 1054 + off, 14, 'legend-b-alfven');
  legendEntry(1018 + off, 1038 + off, 133, '#f00', 'dot', 'V<tspan font-style="italic" font-size="9" dy="3">remaining</tspan>', 1054 + off, 14, 'legend-v-remaining');
});

// ---------- Time series ----------
const times = Br.map((_, i) => timeStartMin + i * cadenceMin);
const TX = 117, TW = 1566, TH = 222, TXMIN = -0.40, TXMAX = 38.33;
function timeAxes(name, top, ymin, ymax, yticks, ylabels, title, ytitle){
  return axes({name: name, x: TX, y: top, w: TW, h: TH, xmin: TXMIN, xmax: TXMAX, ymin: ymin, ymax: ymax,
    xticks: timeTickMin, xlabels: timeTickLabels, yticks: yticks, ylabels: ylabels, title: title, ytitle: ytitle, ytx: 52});
}
function tsLegend(x, y, w, entries){
  legendBox(x, y, w, 20 + entries.length * 23, 'time-series-legend');
  entries.forEach((e, i) => legendEntry(x + 10, x + 30, y + 14 + i * 23, e[1], null, e[0], x + 45, 13, 'legend-' + e[0].toLowerCase().replace(/[^a-z]/g, '')));
}

const a1 = timeAxes('magnetic-field-rtn-chart', 1304, -35, 10, range(-35, 10, 5), null, 'Magnetic Field (RTN Frame)', 'B(nT)');
hline(a1, 0, TXMIN, TXMAX, 'zero-line');
polyline(a1, times, Br, '#f00', 2, 'br-line');
polyline(a1, times, Bt, '#008000', 2, 'bt-line');
polyline(a1, times, Bn, '#00f', 2, 'bn-line');
tsLegend(1604, 1313, 72, [['Br', '#f00'], ['Bt', '#008000'], ['Bn', '#00f']]);

const a2 = timeAxes('magnetic-field-flux-rope-chart', 1638, -20, 40, range(-20, 40, 10), null, 'Magnetic Field (Flux Rope Frame)', 'B(nT)');
hline(a2, 0, TXMIN, TXMAX, 'zero-line');
polyline(a2, times, BxP, '#f00', 2, 'bx-line');
polyline(a2, times, ByP, '#008000', 2, 'by-line');
polyline(a2, times, BzP, '#00f', 2, 'bz-line');
polyline(a2, times, Bmag, '#000', 2, 'b-magnitude-line');
tsLegend(1602, 1647, 74, [["Bx'", '#f00'], ["By'", '#008000'], ["Bz'", '#00f'], ['|B|', '#000']]);

const a3 = timeAxes('solar-wind-velocity-chart', 1972, -50, 400, range(-50, 400, 50), null, 'Solar Wind Velocity (RTN Frame)', 'Vsw(km/s)');
polyline(a3, times, Vr, '#f00', 2, 'vr-line');
polyline(a3, times, Vt, '#008000', 2, 'vt-line');
polyline(a3, times, Vn, '#00f', 2, 'vn-line');
tsLegend(1604, 1981, 72, [['Vr', '#f00'], ['Vt', '#008000'], ['Vn', '#00f']]);

const a4 = timeAxes('plasma-beta-chart', 2306, 0.06, 0.20, range(0.06, 0.20, 0.02), ['0.06','0.08','0.10','0.12','0.14','0.16','0.18','0.20'], 'Plasma Beta', '<tspan font-style="italic" font-family="DejaVu Serif">\u03b2</tspan><tspan font-style="italic" font-size="10" dy="4">p</tspan>');
polyline(a4, times, betaP, '#00f', 2, 'beta-line');

const a5 = timeAxes('proton-density-chart', 2640, 44, 62, range(44, 62, 2), null, 'Proton Number Density', 'Np(#/cc)');
polyline(a5, times, Np, '#00f', 2, 'density-line');

const a6 = timeAxes('proton-temperature-chart', 2974, 0.040, 0.085, range(0.040, 0.085, 0.005), ['0.040','0.045','0.050','0.055','0.060','0.065','0.070','0.075','0.080','0.085'], 'Proton Temperature and <tspan font-style="italic" font-family="DejaVu Serif">T</tspan><tspan font-style="italic" font-size="12" dy="4">e</tspan><tspan dy="-4">/</tspan><tspan font-style="italic" font-family="DejaVu Serif">T</tspan><tspan font-style="italic" font-size="12" dy="4">p</tspan>', 'Tp(10<tspan font-size="10" dy="-6">6</tspan><tspan dy="6">K)</tspan>');
polyline(a6, times, Tp, '#00f', 2, 'temperature-line');
tsLegend(123, 2982, 73, [['Tp', '#00f']]);
</script>
</body></html>
